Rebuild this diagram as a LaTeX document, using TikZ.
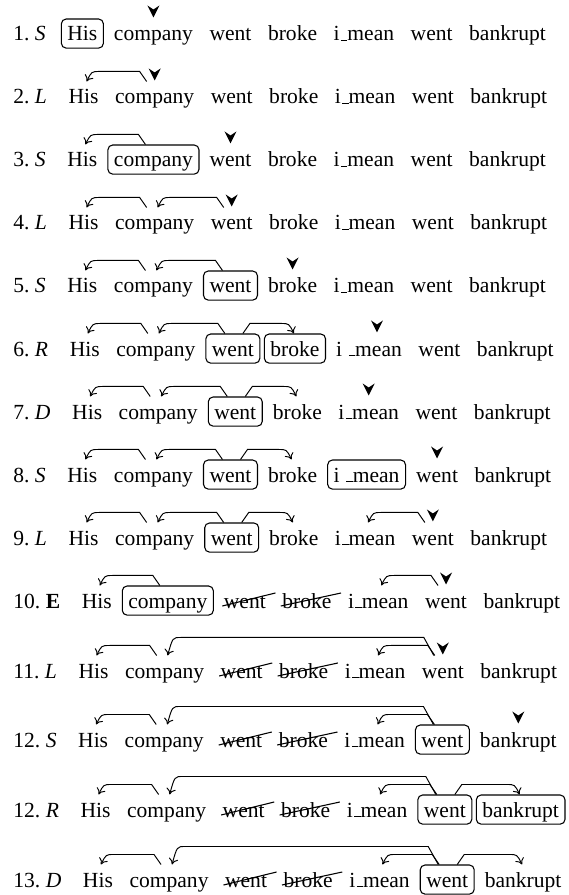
\documentclass[tikz,border=0pt]{standalone}
\usepackage{fontspec}
\setmainfont{Liberation Serif}
\usetikzlibrary{positioning,calc,arrows.meta}
\newcommand\us{\leavevmode\kern.06em\vbox{\hrule width.3em}}
\tikzset{
 lab/.style={inner xsep=0pt, inner ysep=2pt, text height=8.2pt, text depth=1.3pt, anchor=base west},
 word/.style={inner xsep=2.8pt, inner ysep=2pt, text height=8.2pt, text depth=1.3pt, line width=0.5pt},
 plain/.style={},
 boxed/.style={draw, rounded corners=2.2pt},
 arc/.style={line width=0.45pt, -{To[length=2.8pt,width=4.4pt]}},
 strike/.style={line width=0.5pt}
}
% row: #1 id, #2 baseline, #3 label, #4 list text/style
\newcommand\mkrow[4]{%
  \node[lab] (#1w0) at (13,#2) {#3};
  \foreach \wtext/\wsty [count=\k] in {#4} {
    \pgfmathtruncatemacro\p{\k-1}
    \ifnum\k=1 \def\d{6.8pt}\else\def\d{1.6pt}\fi
    \node[word, \wsty, right=\d of #1w\p] (#1w\k) {\wtext};
  }
}
\newcommand\larc[2]{\draw[arc] ($(#1.north)+(-8,0)$) -- ($(#1.north)+(-15,-10)$) -- ($(#2.north)+(16,-10)$) .. controls ($(#2.north)+(8,-10)$) .. ($(#2.north)+(3,0)$);}
\newcommand\longarc[2]{\draw[arc] ($(#1.north)+(-9,0)$) -- ($(#1.north)+(-19,-18)$) -- ($(#2.north)+(16,-18)$) .. controls ($(#2.north)+(8,-18)$) .. ($(#2.north)+(3,0)$);}
\newcommand\rarc[2]{\draw[arc] ($(#1.north)+(10,0)$) -- ($(#1.north)+(17,-10)$) -- ($(#2.north)+(-14,-10)$) .. controls ($(#2.north)+(-6,-10)$) .. ($(#2.north)+(-1,0)$);}
\newcommand\bufmark[2][0]{\fill ($(#2.north)+(#1,-1)$) -- ($(#2.north)+(#1-6,-13)$) -- ($(#2.north)+(#1,-9)$) -- ($(#2.north)+(#1+6,-13)$) -- cycle;}
\newcommand\strk[1]{\draw[strike] ($(#1.base west)+(5,-2)$) -- ($(#1.base east)+(3,-15)$);}
\begin{document}
\begin{tikzpicture}[x=0.4640pt, y=-0.4640pt]
\useasboundingbox (0,0) rectangle (568,895);
% 1
\mkrow{a}{41}{1.~\textit{S}}{His/boxed,company/plain,went/plain,broke/plain,i\us mean/plain,went/plain,bankrupt/plain}
\bufmark{aw2}
% 2
\mkrow{b}{104}{2.~\textit{L}}{His/plain,company/plain,went/plain,broke/plain,i\us mean/plain,went/plain,bankrupt/plain}
\larc{bw2}{bw1}
\bufmark{bw2}
% 3
\mkrow{c}{167}{3.~\textit{S}}{His/plain,company/boxed,went/plain,broke/plain,i\us mean/plain,went/plain,bankrupt/plain}
\larc{cw2}{cw1}
\bufmark{cw3}
% 4
\mkrow{d}{230}{4.~\textit{L}}{His/plain,company/plain,went/plain,broke/plain,i\us mean/plain,went/plain,bankrupt/plain}
\larc{dw2}{dw1}\larc{dw3}{dw2}
\bufmark{dw3}
% 5
\mkrow{e}{293}{5.~\textit{S}}{His/plain,company/plain,went/boxed,broke/plain,i\us mean/plain,went/plain,bankrupt/plain}
\larc{ew2}{ew1}\larc{ew3}{ew2}
\bufmark{ew4}
% 6
\mkrow{f}{356}{6.~\textit{R}}{His/plain,company/plain,went/boxed,broke/boxed,i \us mean/plain,went/plain,bankrupt/plain}
\larc{fw2}{fw1}\larc{fw3}{fw2}\rarc{fw3}{fw4}
\bufmark[8]{fw5}
% 7
\mkrow{g}{419}{7.~\textit{D}}{His/plain,company/plain,went/boxed,broke/plain,i\us mean/plain,went/plain,bankrupt/plain}
\larc{gw2}{gw1}\larc{gw3}{gw2}\rarc{gw3}{gw4}
\bufmark{gw5}
% 8
\mkrow{h}{482}{8.~\textit{S}}{His/plain,company/plain,went/boxed,broke/plain,i \us mean/boxed,went/plain,bankrupt/plain}
\larc{hw2}{hw1}\larc{hw3}{hw2}\rarc{hw3}{hw4}
\bufmark{hw6}
% 9
\mkrow{i}{545}{9.~\textit{L}}{His/plain,company/plain,went/boxed,broke/plain,i\us mean/plain,went/plain,bankrupt/plain}
\larc{iw2}{iw1}\larc{iw3}{iw2}\rarc{iw3}{iw4}\larc{iw6}{iw5}
\bufmark{iw6}
% 10
\mkrow{j}{608}{10.~\textbf{E}}{His/plain,company/boxed,went/plain,broke/plain,i\us mean/plain,went/plain,bankrupt/plain}
\strk{jw3}\strk{jw4}
\larc{jw2}{jw1}\larc{jw6}{jw5}
\bufmark{jw6}
% 11
\mkrow{k}{678}{11.~\textit{L}}{His/plain,company/plain,went/plain,broke/plain,i\us mean/plain,went/plain,bankrupt/plain}
\strk{kw3}\strk{kw4}
\larc{kw2}{kw1}\larc{kw6}{kw5}\longarc{kw6}{kw2}
\bufmark{kw6}
% 12 S
\mkrow{l}{747}{12.~\textit{S}}{His/plain,company/plain,went/plain,broke/plain,i\us mean/plain,went/boxed,bankrupt/plain}
\strk{lw3}\strk{lw4}
\larc{lw2}{lw1}\larc{lw6}{lw5}\longarc{lw6}{lw2}
\bufmark{lw7}
% 12 R
\mkrow{m}{817}{12.~\textit{R}}{His/plain,company/plain,went/plain,broke/plain,i\us mean/plain,went/boxed,bankrupt/boxed}
\strk{mw3}\strk{mw4}
\larc{mw2}{mw1}\larc{mw6}{mw5}\longarc{mw6}{mw2}\rarc{mw6}{mw7}
% 13
\mkrow{n}{887}{13.~\textit{D}}{His/plain,company/plain,went/plain,broke/plain,i\us mean/plain,went/boxed,bankrupt/plain}
\strk{nw3}\strk{nw4}
\larc{nw2}{nw1}\larc{nw6}{nw5}\longarc{nw6}{nw2}\rarc{nw6}{nw7}
\end{tikzpicture}
\end{document}
